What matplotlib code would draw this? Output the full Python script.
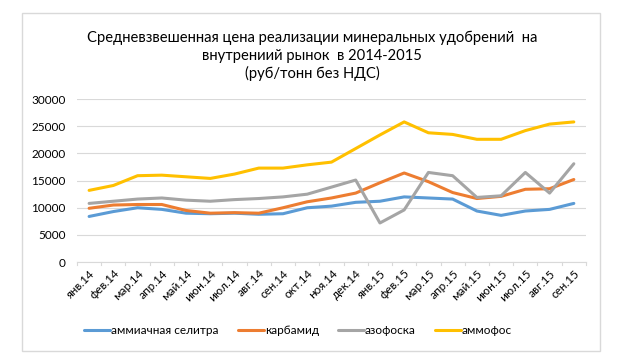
import matplotlib.pyplot as plt
from matplotlib.patches import Rectangle

plt.rcParams['font.family'] = ['Lato', 'DejaVu Sans']

months = ['янв.14', 'фев.14', 'мар.14', 'апр.14', 'май.14', 'июн.14', 'июл.14',
          'авг.14', 'сен.14', 'окт.14', 'ноя.14', 'дек.14', 'янв.15', 'фев.15',
          'мар.15', 'апр.15', 'май.15', 'июн.15', 'июл.15', 'авг.15', 'сен.15']

selitra = [8400, 9300, 10000, 9700, 9000, 8900, 9000, 8800, 8900, 10000, 10300,
           11000, 11200, 12000, 11800, 11600, 9400, 8600, 9400, 9700, 10800]
karbamid = [9900, 10500, 10600, 10600, 9500, 9000, 9100, 9000, 10000, 11100, 11800,
            12700, 14600, 16400, 14800, 12800, 11700, 12100, 13400, 13500, 15200]
azofoska = [10800, 11200, 11600, 11800, 11400, 11200, 11500, 11700, 12000, 12500, 13800,
            15100, 7200, 9600, 16500, 15900, 11900, 12200, 16500, 12700, 18100]
ammofos = [13200, 14100, 15900, 16000, 15700, 15400, 16200, 17300, 17300, 17900, 18400,
           20900, 23400, 25800, 23800, 23500, 22600, 22600, 24200, 25400, 25800]

series = [
    ('аммиачная селитра', selitra, '#5b9bd5'),
    ('карбамид', karbamid, '#ed7d31'),
    ('азофоска', azofoska, '#a5a5a5'),
    ('аммофос', ammofos, '#ffc000'),
]

fig = plt.figure(figsize=(6.26, 3.63), dpi=100)
ax = fig.add_axes([0.123, 0.278, 0.813, 0.449])

x = range(len(months))
for name, vals, color in series:
    ax.plot(x, vals, color=color, lw=2.2, label=name, solid_capstyle='round')

ax.set_ylim(0, 30000)
ax.set_yticks(range(0, 30001, 5000))
ax.set_xlim(-0.5, len(months) - 0.5)
ax.set_xticks(list(x))
ax.set_xticklabels(months, rotation=45, ha='right', rotation_mode='anchor', fontsize=8.5)
ax.tick_params(axis='y', labelsize=8.5, length=0, pad=8)
ax.tick_params(axis='x', length=0, pad=4)
ax.grid(axis='y', color='#d9d9d9', lw=0.8)
ax.set_axisbelow(True)
for s in ['top', 'right', 'left']:
    ax.spines[s].set_visible(False)
ax.spines['bottom'].set_color('#d9d9d9')

# small ticks between categories on x axis
for i in range(len(months) + 1):
    ax.plot([i - 0.5, i - 0.5], [0, -500], color='#d9d9d9', lw=0.8, clip_on=False)

fig.text(0.499, 0.845,
         'Средневзвешенная цена реализации минеральных удобрений  на\n'
         'внутрениий рынок  в 2014-2015\n(руб/тонн без НДС)',
         ha='center', va='center', fontsize=10.6, linespacing=1.3)

fig.legend(loc='center', bbox_to_anchor=(0.476, 0.09), ncol=4, frameon=False,
           fontsize=8.5, handlelength=2.2, handletextpad=0.1, columnspacing=1.6)

fig.add_artist(Rectangle((22 / 626, 1 - 351 / 363), 578 / 626, 338 / 363,
                         transform=fig.transFigure, fill=False,
                         edgecolor='#d9d9d9', lw=1))

fig.savefig('out.png', dpi=100)
